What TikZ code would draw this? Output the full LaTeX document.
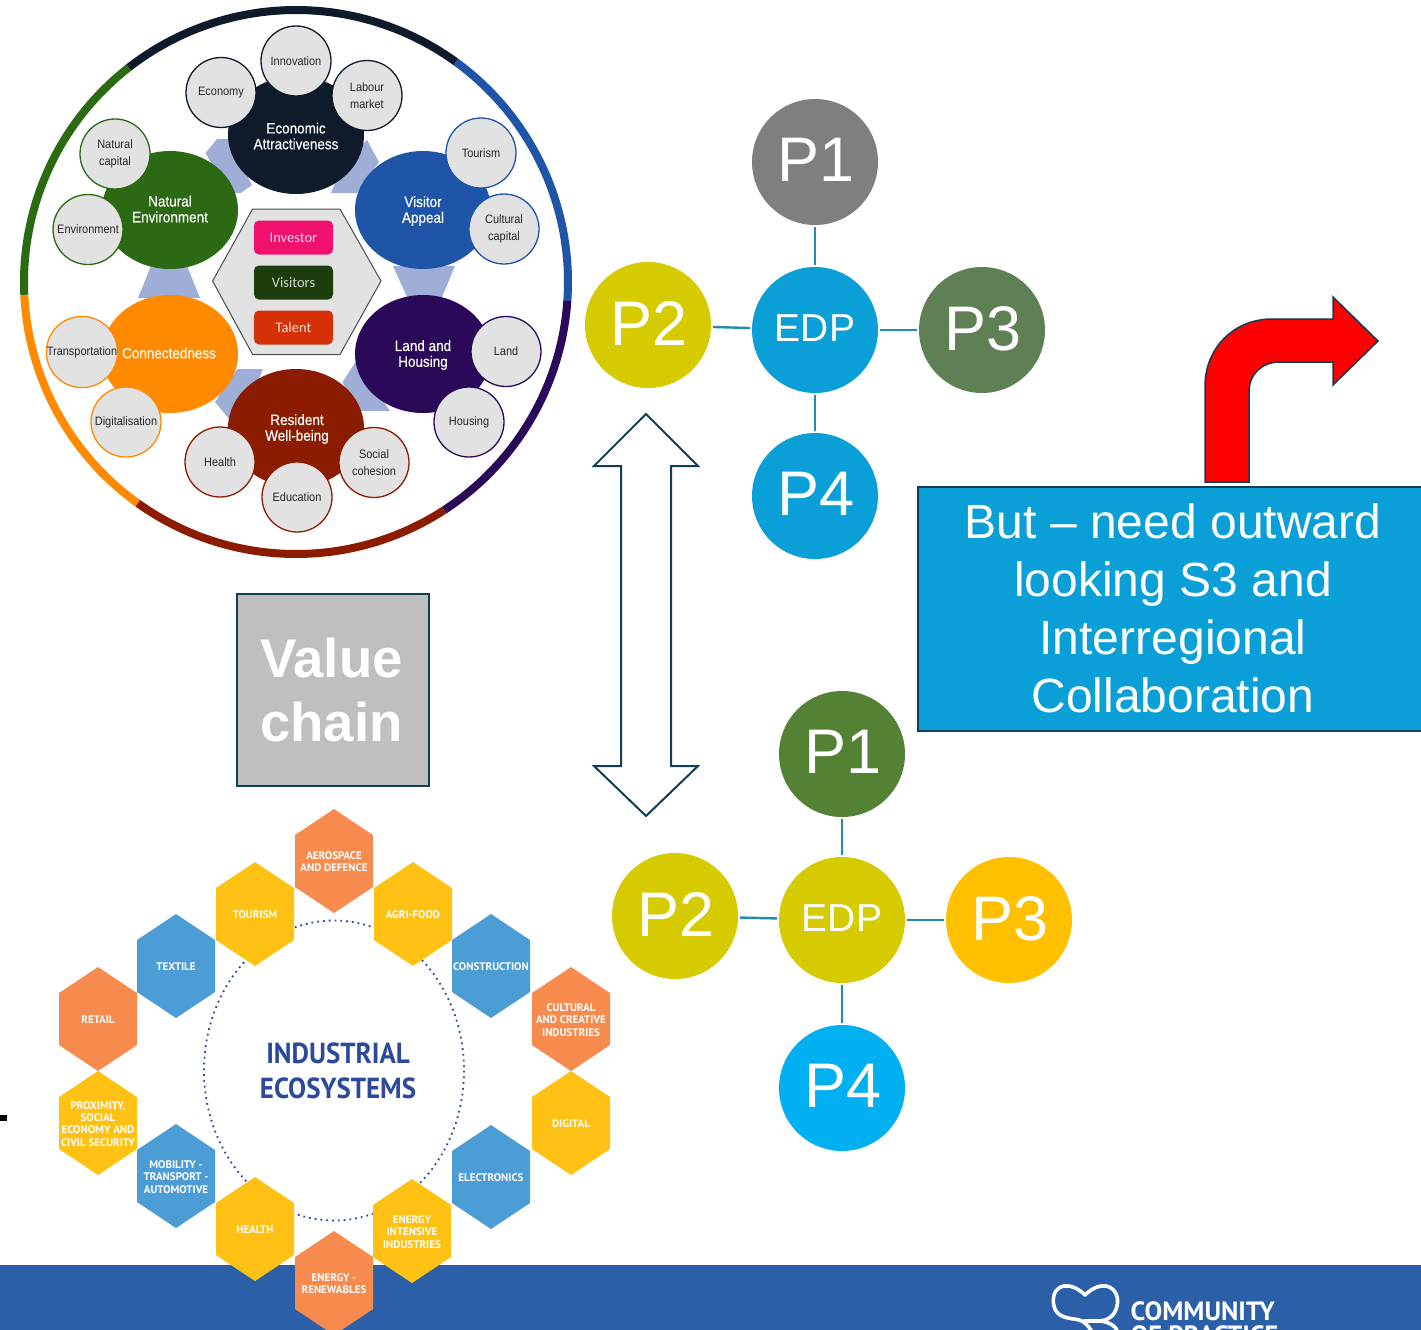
\documentclass[tikz,border=0pt]{standalone}
\usepackage{fontspec}
\setmainfont{Liberation Sans}
\newfontfamily\wheelf[FakeStretch=0.9]{Liberation Sans}
\newfontfamily\ovalf[FakeStretch=0.9,FakeBold=0.35]{Liberation Sans}
\newfontfamily\hexf{PT Sans}
\newfontfamily\ecof[FakeStretch=0.93]{PT Sans}
\newfontfamily\boxf{Carlito}
\usetikzlibrary{shapes.geometric}
\definecolor{ringblack}{HTML}{0F1A2B}
\definecolor{ringblue}{HTML}{1F55A8}
\definecolor{ringpurple}{HTML}{2A0A58}
\definecolor{ringred}{HTML}{8C1C00}
\definecolor{ringorange}{HTML}{FF8A00}
\definecolor{ringgreen}{HTML}{2B6A12}
\definecolor{linkblue}{HTML}{9FAED6}
\definecolor{smallgray}{HTML}{E2E2E2}
\definecolor{cyanblue}{HTML}{0A9FD6}
\definecolor{olivey}{HTML}{D6CA00}
\definecolor{darkteal}{HTML}{0F3F55}
\definecolor{linkteal}{HTML}{1E8CB4}
\definecolor{bandblue}{HTML}{2B60A8}
\definecolor{hexorange}{HTML}{F78B4E}
\definecolor{hexyellow}{HTML}{FFC114}
\definecolor{hexblue}{HTML}{4C9DD5}
\definecolor{ecoblue}{HTML}{2B4A9B}
\definecolor{invpink}{HTML}{F0106E}
\definecolor{visgreen}{HTML}{1C3D0C}
\definecolor{talred}{HTML}{D63008}
\definecolor{pgreen}{HTML}{548235}
\definecolor{pgray}{HTML}{7F7F7F}
\definecolor{psage}{HTML}{5F7F55}
\definecolor{pyellow}{HTML}{FFC000}
\definecolor{pcyan}{HTML}{00B0F0}
\tikzset{
  ringseg/.style={line width=8pt,line cap=butt},
  bigoval/.style={ellipse,fill=#1,minimum width=136pt,minimum height=118pt,inner sep=0pt},
  ovaltext/.style={text=white,align=center,font=\ovalf\fontsize{15}{15.8}\selectfont},
  smallc/.style={circle,draw=#1,fill=smallgray,line width=1.3pt,minimum size=70pt,inner sep=0pt,text=black!85,align=center,font=\wheelf\fontsize{12.2}{16.5}\selectfont},
  linkshape/.style={fill=linkblue,draw=none},
  audience/.style={rounded corners=5pt,fill=#1,minimum width=79pt,minimum height=34pt,inner sep=0pt,font=\boxf\fontsize{14.5}{16}\selectfont},
  bigc/.style={circle,fill=#1,minimum size=126pt,inner sep=0pt,text=white,font=\fontsize{63}{63}\selectfont},
  edpc/.style={circle,fill=#1,minimum size=126pt,inner sep=0pt,text=white,font=\fontsize{39}{39}\selectfont},
  conn/.style={draw=linkteal,line width=2.4pt,shorten >=2pt,shorten <=2pt},
  hexlabel/.style={text=white,align=center,font=\hexf\bfseries\fontsize{11}{12.2}\selectfont},
  panel/.style={draw=darkteal,line width=2pt},
}
\newcommand{\hexn}[5]{%
  \fill[#4] (#2,#3-52) -- (#2+39,#3-26) -- (#2+39,#3+26) -- (#2,#3+52) -- (#2-39,#3+26) -- (#2-39,#3-26) -- cycle;
  \node[hexlabel] (#1) at (#2,#3+1) {#5};
}
\newcommand{\ringarc}[3]{\draw[ringseg,draw=#3,domain=#1:#2,samples=70] plot ({296+272*cos(\x)},{282-272*sin(\x)});}
\newcommand{\lifted}[1]{\hspace*{1.5pt}\raisebox{3.8pt}{#1}}
\begin{document}
\begin{tikzpicture}[x=1pt,y=-1pt]
\useasboundingbox (0,0) rectangle (1421,1330);
\clip (0,0) rectangle (1421,1330);
\fill[white] (0,0) rectangle (1421,1330);
% wheel ring
\ringarc{54}{128}{ringblack}
\ringarc{-4}{54}{ringblue}
\ringarc{-57}{-4}{ringpurple}
\ringarc{-125.6}{-57}{ringred}
\ringarc{-177.3}{-125.6}{ringorange}
\ringarc{128}{182.7}{ringgreen}
% link shapes
\fill[linkshape] (217,139) -- (228,139) -- (252,185) -- (241,193) -- (228,193) -- (205.5,153) -- cycle;
\fill[linkshape] (367,140) -- (379,162) -- (357,193) -- (331,193) -- (345,160) -- cycle;
\fill[linkshape] (151,266) -- (187,266) -- (200,298) -- (138,298) -- cycle;
\fill[linkshape] (393,266) -- (455,266) -- (442,297) -- (407,297) -- cycle;
\fill[linkshape] (237,369) -- (263,369) -- (250,400) -- (230,420) -- (215,402) -- cycle;
\fill[linkshape] (355.5,362) -- (342.6,382) -- (357,411) -- (390,411) -- cycle;
% big ovals
\node[bigoval=ringblack] (econ) at (296,135) {};
\node[bigoval=ringgreen] (nat) at (170,210) {};
\node[bigoval=ringblue] (vis) at (423,210) {};
\node[bigoval=ringpurple] (land) at (423,354) {};
\node[bigoval=ringorange] (con) at (170,354) {};
\node[bigoval=ringred] (res) at (296,428) {};
% small circles
\node[smallc=ringblack] (innov) at (296,61) {Innovation};
\node[smallc=ringblack] (economy) at (221,92.5) {Economy};
\node[smallc=ringblack] (labour) at (367,95.5) {Labour\\market};
\node[smallc=ringgreen] (natcap) at (115,154) {Natural\\capital};
\node[smallc=ringgreen] (env) at (88,229.5) {Environment};
\node[smallc=ringblue] (tour) at (481,153) {Tourism};
\node[smallc=ringblue] (cult) at (504,229) {Cultural\\capital};
\node[smallc=ringorange] (transp) at (82,352) {Transportation};
\node[smallc=ringorange] (digi) at (126,422) {Digitalisation};
\node[smallc=ringpurple] (landc) at (506,351.5) {Land};
\node[smallc=ringpurple] (hous) at (469,422) {Housing};
\node[smallc=ringred] (heal) at (220,462) {Health};
\node[smallc=ringred] (educ) at (297,497) {Education};
\node[smallc=ringred] (soc) at (374,462.5) {Social\\cohesion};
% oval labels
\node[ovaltext] (econt) at (296,136) {Economic\\Attractiveness};
\node[ovaltext] (natt) at (170,209) {Natural\\Environment};
\node[ovaltext] (vist) at (423,211) {Visitor\\Appeal};
\node[ovaltext] (landt) at (423,355) {Land and\\Housing};
\node[ovaltext] (cont) at (169,353) {Connectedness};
\node[ovaltext] (rest) at (297,429) {Resident\\Well-being};
% centre hexagon
\filldraw[fill=smallgray,draw=black!70,line width=1pt] (252.6,209) -- (340,209) -- (381,281) -- (340,354.5) -- (252.6,354.5) -- (212.6,281) -- cycle;
\node[audience=invpink,text=white!85!invpink] (inv) at (293.5,237.5) {Investor};
\node[audience=visgreen,text=white!80!visgreen] (visi) at (293.5,282.5) {Visitors};
\node[audience=talred,text=white!85!talred] (tal) at (293.5,327.5) {Talent};
% value chain
\node[panel,fill=black!25,minimum width=192pt,minimum height=192pt,inner sep=0pt] (vc) at (333,690) {};
\node[text=white,align=center,font=\bfseries\fontsize{54.5}{64}\selectfont] (vctext) at (331.5,690) {Value\\chain};
% double arrow
\filldraw[draw=darkteal,fill=white,line width=2pt,line join=miter] (646,414) -- (698,466) -- (671,466) -- (671,766) -- (698,766) -- (646,816) -- (594,766) -- (621,766) -- (621,466) -- (594,466) -- cycle;
% upper group
\node[bigc=pgray] (pa1) at (815,162) {\lifted{P1}};
\node[edpc=cyanblue] (edpa) at (815,330) {\raisebox{3.8pt}{EDP}};
\node[bigc=olivey] (pa2) at (648,325) {\lifted{P2}};
\node[bigc=psage] (pa3) at (982,330) {\lifted{P3}};
\node[bigc=cyanblue] (pa4) at (815,496) {\lifted{P4}};
\draw[conn] (pa1) -- (edpa);
\draw[conn] (pa2) -- (edpa);
\draw[conn] (edpa) -- (pa3);
\draw[conn] (edpa) -- (pa4);
% lower group
\node[bigc=pgreen] (pb1) at (842,754) {\lifted{P1}};
\node[edpc=olivey] (edpb) at (842,920) {\raisebox{3pt}{EDP}};
\node[bigc=olivey] (pb2) at (675,916) {\lifted{P2}};
\node[bigc=pyellow] (pb3) at (1009,920) {\lifted{P3}};
\node[bigc=pcyan] (pb4) at (842,1088) {\lifted{P4}};
\draw[conn] (pb1) -- (edpb);
\draw[conn] (pb2) -- (edpb);
\draw[conn] (edpb) -- (pb3);
\draw[conn] (edpb) -- (pb4);
% red bent arrow
\filldraw[fill=red,draw=darkteal,line width=1.5pt,line join=miter] (1205,482) -- (1249,482) -- (1249,392) .. controls (1249,374) and (1262,362) .. (1280,362) -- (1333,362) -- (1333,385) -- (1378,341) -- (1333,297) -- (1333,319) -- (1272,319) .. controls (1234,319) and (1205,348) .. (1205,386) -- cycle;
% blue box
\node[panel,fill=cyanblue,minimum width=530pt,minimum height=244pt,inner sep=0pt,anchor=north west] (outbox) at (917,485.5) {};
\node[text=white,align=center,font=\fontsize{48}{58}\selectfont] (outtext) at (1173,608) {But – need outward\\looking S3 and\\Interregional\\Collaboration};
% bottom band
\fill[bandblue] (0,1265) rectangle (1421,1330);
% logo
\draw[white,line width=3.6pt,line cap=round,line join=round] (1085,1295) .. controls (1078,1288) and (1070,1285) .. (1064,1286) .. controls (1054,1288) and (1052,1298) .. (1054,1306) .. controls (1056,1316) and (1066,1318) .. (1074,1319) .. controls (1084,1320) and (1088,1325) .. (1092,1332);
\draw[white,line width=3.6pt,line cap=round,line join=round] (1085,1295) .. controls (1092,1288) and (1100,1285) .. (1106,1286) .. controls (1116,1288) and (1119,1298) .. (1117,1306) .. controls (1115,1316) and (1108,1320) .. (1100,1321) -- (1084,1321);
\draw[white,line width=3.6pt,line cap=round] (1100,1321) .. controls (1110,1322) and (1117,1327) .. (1118,1333);
\node[anchor=base west,inner sep=0pt,text=white,font=\hexf\bfseries\fontsize{26.4}{26}\selectfont] (logoa) at (1130.5,1320) {COMMUNITY};
\node[anchor=base west,inner sep=0pt,text=white,font=\hexf\bfseries\fontsize{26.4}{26}\selectfont] (logob) at (1130.5,1344) {OF PRACTICE};
% stray mark
\fill[black] (0,1114.5) rectangle (7,1120.5);
% ecosystems
\draw[ecoblue,line width=1.8pt,dash pattern=on 1.8pt off 4pt] (334,1070.5) ellipse [x radius=130, y radius=150];
\hexn{h1}{334}{861}{hexorange}{AEROSPACE\\AND DEFENCE}
\hexn{h2}{413}{914}{hexyellow}{AGRI-FOOD}
\hexn{h3}{491}{966}{hexblue}{CONSTRUCTION}
\hexn{h4}{571}{1019}{hexorange}{CULTURAL\\AND CREATIVE\\INDUSTRIES}
\hexn{h5}{571}{1123}{hexyellow}{DIGITAL}
\hexn{h6}{491}{1177}{hexblue}{ELECTRONICS}
\hexn{h7}{412}{1231}{hexyellow}{ENERGY\\INTENSIVE\\INDUSTRIES}
\hexn{h9}{255}{1229}{hexyellow}{HEALTH}
\hexn{h8}{334}{1283}{hexorange}{ENERGY -\\RENEWABLES}
\hexn{h10}{176}{1176}{hexblue}{MOBILITY -\\TRANSPORT -\\AUTOMOTIVE}
\hexn{h11}{98}{1123}{hexyellow}{PROXIMITY,\\SOCIAL\\ECONOMY AND\\CIVIL SECURITY}
\hexn{h12}{98}{1019}{hexorange}{RETAIL}
\hexn{h13}{176}{966}{hexblue}{TEXTILE}
\hexn{h14}{255}{914}{hexyellow}{TOURISM}
\node[text=ecoblue,align=center,font=\ecof\bfseries\fontsize{29}{35}\selectfont] (eco) at (338,1071) {INDUSTRIAL\\ECOSYSTEMS};
\end{tikzpicture}
\end{document}
